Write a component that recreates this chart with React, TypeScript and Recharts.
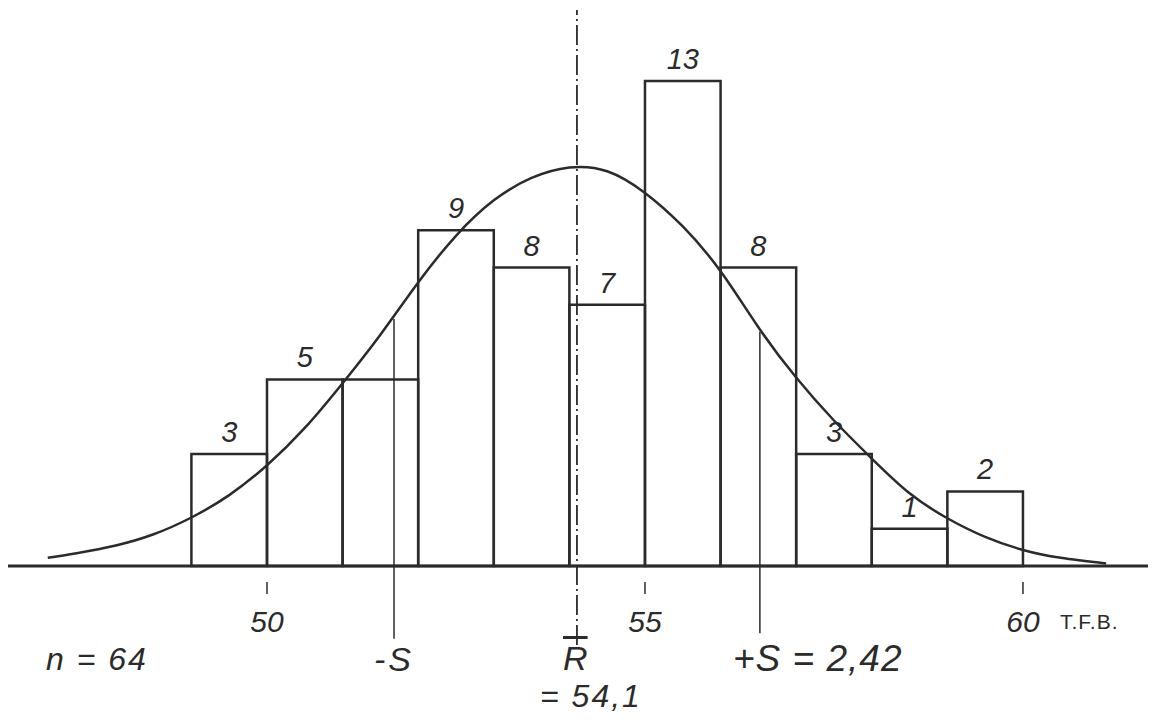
import {
  ComposedChart, Line, XAxis, YAxis,
  ReferenceArea, ReferenceLine,
} from 'recharts';

// class lower bounds (width 1) and observed frequencies, n = 64
const binStart = [49, 50, 51, 52, 53, 54, 55, 56, 57, 58, 59];
const counts = [3, 5, 5, 9, 8, 7, 13, 8, 3, 1, 2];
// the drawing writes the count over every bar but the third
const countLabels = ['3', '5', '', '9', '8', '7', '13', '8', '3', '1', '2'];

// fitted curve
const curveX = [47.1, 47.5, 48, 48.5, 49, 49.5, 50, 50.5, 51, 51.5, 52, 52.5, 53, 53.5, 54, 54.5, 55, 55.5, 56, 56.5, 57, 57.5, 58, 58.5, 59, 59.5, 60, 60.5, 61.1];
const curveY = [0.22, 0.35, 0.55, 0.85, 1.3, 1.9, 2.7, 3.7, 4.9, 6.2, 7.6, 8.85, 9.8, 10.4, 10.68, 10.58, 10.0, 9.1, 7.9, 6.4, 5.05, 3.9, 2.88, 1.95, 1.28, 0.78, 0.43, 0.22, 0.07];

const tickValues = [50, 55, 60];

const meanValue = 54.1;
const sdValue = 2.42;

const curve = curveX.map((x, i) => ({ x, y: curveY[i] }));

const INK = '#2b2b2b';
const HAND = '"Liberation Sans", "DejaVu Sans", sans-serif';

const AxisTick = (props: any) => {
  const { x, y, payload } = props;
  return (
    <g>
      <line x1={x} x2={x} y1={y + 16} y2={y + 28} stroke={INK} strokeWidth={1.5} />
      <text
        x={x}
        y={y + 66}
        textAnchor="middle"
        fontFamily={HAND}
        fontStyle="italic"
        fontSize={30}
        fill={INK}
      >
        {payload.value}
      </text>
    </g>
  );
};

const txt = (left: number, top: number, size: number, extra: any = {}) => ({
  position: 'absolute' as const,
  left,
  top,
  fontSize: size,
  fontFamily: HAND,
  fontStyle: 'italic',
  color: INK,
  lineHeight: 1,
  whiteSpace: 'nowrap' as const,
  ...extra,
});

export default function App() {
  return (
    <div style={{ position: 'absolute', left: 0, top: 0, width: 1152, height: 722, background: '#fff' }}>
      <ComposedChart
        width={1152}
        height={722}
        data={curve}
        margin={{ top: 0, right: 4, bottom: 0, left: 8 }}
      >
        <XAxis
          dataKey="x"
          type="number"
          domain={[46.574, 61.654]}
          ticks={tickValues}
          height={156}
          axisLine={{ stroke: INK, strokeWidth: 3 }}
          tickLine={false}
          tickSize={0}
          tickMargin={0}
          tick={<AxisTick />}
          allowDataOverflow
        />
        <YAxis hide type="number" domain={[0, 15.17]} allowDataOverflow />
        {binStart.map((lo, i) => (
          <ReferenceArea
            key={lo}
            x1={lo}
            x2={lo + 1}
            y1={0}
            y2={counts[i]}
            fill="none"
            stroke={INK}
            strokeWidth={2.5}
            fillOpacity={0}
            strokeOpacity={1}
            label={{
              value: countLabels[i],
              position: 'top',
              offset: 12,
              fontSize: 29,
              fontStyle: 'italic',
              fontFamily: HAND,
              fill: INK,
            }}
          />
        ))}
        <ReferenceLine
          segment={[{ x: meanValue, y: -2.12 }, { x: meanValue, y: 14.9 }]}
          stroke={INK}
          strokeWidth={1.8}
          strokeDasharray="20 4 2 4"
          ifOverflow="visible"
        />
        <ReferenceLine
          segment={[{ x: meanValue - sdValue, y: -1.95 }, { x: meanValue - sdValue, y: 6.62 }]}
          stroke={INK}
          strokeWidth={1.5}
          ifOverflow="visible"
        />
        <ReferenceLine
          segment={[{ x: meanValue + sdValue, y: -1.8 }, { x: meanValue + sdValue, y: 6.28 }]}
          stroke={INK}
          strokeWidth={1.5}
          ifOverflow="visible"
        />
        <Line
          type="natural"
          dataKey="y"
          stroke={INK}
          strokeWidth={2.5}
          dot={false}
          activeDot={false}
          isAnimationActive={false}
        />
      </ComposedChart>

      <div style={txt(1060, 611, 21, { fontStyle: 'normal', fontFamily: '"Liberation Sans Narrow", "Liberation Sans", sans-serif', letterSpacing: 1 })}>
        T.F.B.
      </div>
      <div style={txt(46, 643, 32, { letterSpacing: 2 })}>n = 64</div>
      <div style={txt(374, 642, 34, { letterSpacing: 3 })}>-S</div>
      <div style={txt(563, 641, 34, { textDecoration: 'overline' })}>R</div>
      <div style={txt(540, 680, 32, { letterSpacing: 2 })}>= 54,1</div>
      <div style={txt(733, 640, 37, { letterSpacing: 1 })}>+S = 2,42</div>
    </div>
  );
}
